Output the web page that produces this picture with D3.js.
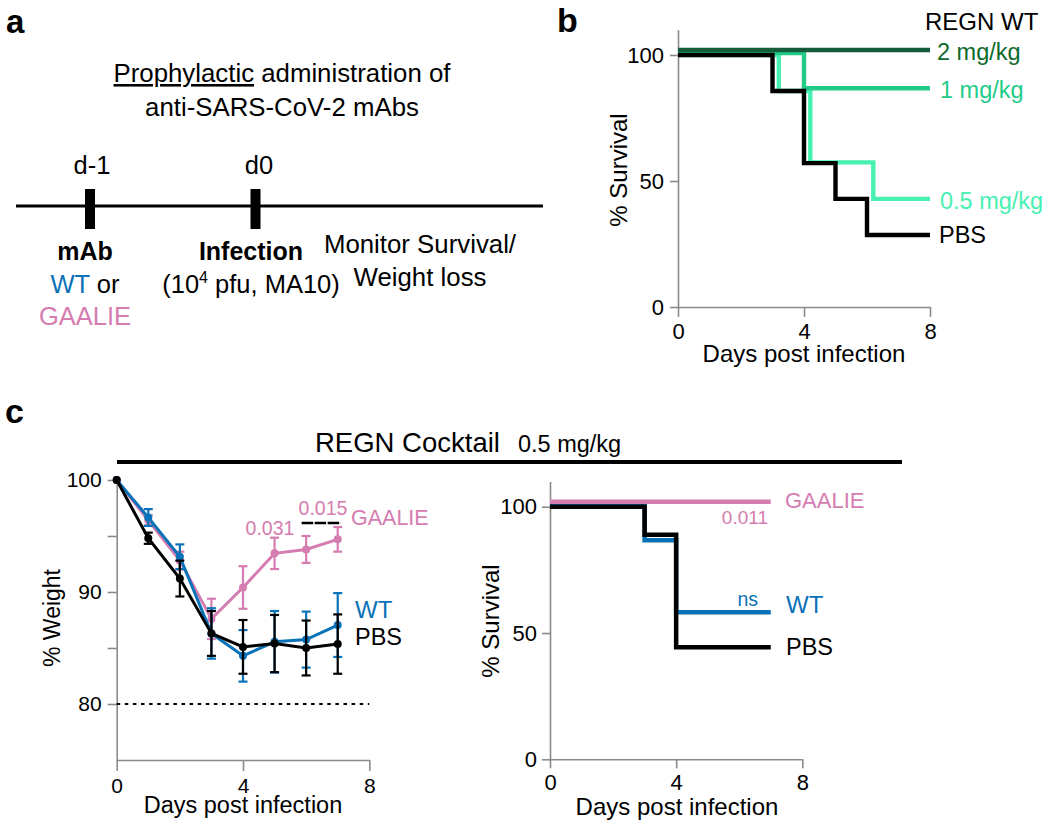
<!DOCTYPE html>
<html><head><meta charset="utf-8">
<script src="https://cdn.jsdelivr.net/npm/d3@7"></script>
<style>
body{margin:0;background:#fff}
svg{font-family:"Liberation Sans",Arial,Helvetica,sans-serif}
</style>
</head><body>
<svg id="fig" width="1050" height="828"></svg>
<script>
// ---------- DATA ----------
// Panel b: Kaplan-Meier, REGN WT doses
const bEndDay = 8;
const bTimes05 = [0, 3.2, 4.2, 6.2];
const bSurv05  = [100, 85.7, 57.4, 42.9];
const bTimes1  = [0, 4];
const bSurv1   = [100.8, 86.8];
const bTimesPBS = [0, 3, 4, 5, 6];
const bSurvPBS  = [100, 85.7, 57.1, 42.9, 28.6];
const bTimes2  = [0];
const bSurv2   = [102];
const bLabels  = ["2 mg/kg", "1 mg/kg", "0.5 mg/kg", "PBS"];

// Panel c (left): % weight, mean and SEM by day
const days = [0, 1, 2, 3, 4, 5, 6, 7];
const gaalieMean = [100, 96.4, 92.8, 87.6, 90.4, 93.45, 93.8, 94.7];
const gaalieSem  = [0, 0.45, 0.8, 1.8, 1.9, 1.4, 1.2, 1.1];
const wtMean  = [100, 96.65, 93.15, 86.3, 84.3, 85.55, 85.75, 87.05];
const wtSem   = [0, 0.75, 1.1, 2.25, 2.3, 2.75, 2.5, 2.85];
const pbsMean = [100, 94.8, 91.2, 86.3, 85.1, 85.4, 85.0, 85.35];
const pbsSem  = [0, 0.5, 1.6, 2.0, 2.4, 2.55, 2.45, 2.65];
const weightTicks = [80, 85, 90, 95, 100];
const weightLabels = ["GAALIE", "WT", "PBS"];
const pValsWeight = ["0.031", "0.015"];

// Panel c (right): Kaplan-Meier, REGN cocktail 0.5 mg/kg
const cEndDay = 7;
const cTimesGA = [0];
const cSurvGA  = [102];
const cTimesWT = [0, 3, 4];
const cSurvWT  = [101, 86.7, 58.2];
const cTimesPBS = [0, 3, 4];
const cSurvPBS  = [100, 88.9, 44.4];

const survTicks = [0, 50, 100];
const dayTicks = [0, 4, 8];

// ---------- STYLE ----------
const C = {
  axis: "#8a8a8a",
  g2: "#145c3a", g2t: "#0e6a2c",
  g1: "#22cc88",
  g05: "#48f0b2",
  blue: "#0a72b8",
  pink: "#d57db0",
  black: "#000"
};

const svg = d3.select("#fig");

function txt(g, x, y, s, o = {}) {
  const t = g.append("text").attr("x", x).attr("y", y).text(s)
    .attr("font-size", o.size || 24)
    .attr("fill", o.fill || "#000")
    .attr("text-anchor", o.anchor || "start");
  if (o.bold) t.attr("font-weight", "bold");
  return t;
}

function styleAxis(g, fs) {
  g.attr("font-family", null).attr("font-size", null);
  g.select(".domain").attr("stroke", C.axis).attr("stroke-width", 1.6);
  g.selectAll(".tick line").attr("stroke", C.axis).attr("stroke-width", 1.6);
  g.selectAll(".tick text").attr("fill", "#000")
    .style("font-family", "'Liberation Sans', Arial, sans-serif")
    .style("font-size", fs + "px");
}

function stepPath(times, surv, end) {
  const pts = times.map((t, i) => [t, surv[i]]);
  pts.push([end, surv[surv.length - 1]]);
  return pts;
}

// ---------- PANEL A ----------
const a = svg.append("g");
txt(a, 6, 33, "a", {size: 33, bold: true});
const t1 = a.append("text").attr("x", 282).attr("y", 82).attr("font-size", 25.8).attr("text-anchor", "middle");
t1.append("tspan").attr("text-decoration", "underline").style("text-decoration", "underline").text("Prophylactic");
t1.append("tspan").text(" administration of");
txt(a, 282, 116, "anti-SARS-CoV-2 mAbs", {size: 25.8, anchor: "middle"});
a.append("line").attr("x1", 16).attr("x2", 543).attr("y1", 206).attr("y2", 206)
  .attr("stroke", "#000").attr("stroke-width", 3);
a.append("rect").attr("x", 85).attr("y", 189).attr("width", 10).attr("height", 40).attr("fill", "#000");
a.append("rect").attr("x", 250.5).attr("y", 189).attr("width", 10).attr("height", 40).attr("fill", "#000");
txt(a, 92, 174, "d-1", {size: 25.5, anchor: "middle"});
txt(a, 259, 174, "d0", {size: 25.5, anchor: "middle"});
txt(a, 85, 260, "mAb", {size: 25, bold: true, anchor: "middle"});
const wtor = a.append("text").attr("x", 85).attr("y", 293).attr("font-size", 25.5).attr("text-anchor", "middle");
wtor.append("tspan").attr("fill", C.blue).text("WT");
wtor.append("tspan").attr("fill", "#000").text(" or");
txt(a, 85, 325, "GAALIE", {size: 25.5, anchor: "middle", fill: C.pink});
txt(a, 251, 260, "Infection", {size: 25, bold: true, anchor: "middle"});
const inf = a.append("text").attr("x", 251).attr("y", 293).attr("font-size", 25.5).attr("text-anchor", "middle");
inf.append("tspan").text("(10");
inf.append("tspan").attr("font-size", 16).attr("dy", -10).text("4");
inf.append("tspan").attr("dy", 10).text(" pfu, MA10)");
txt(a, 420, 253, "Monitor Survival/", {size: 25.8, anchor: "middle"});
txt(a, 420, 286, "Weight loss", {size: 25.8, anchor: "middle"});

// ---------- PANEL B ----------
const b = svg.append("g");
txt(b, 557, 31.5, "b", {size: 34, bold: true});
const bx = d3.scaleLinear().domain([0, 8]).range([678, 930]);
const by = d3.scaleLinear().domain([0, 110]).range([307, 29.8]);
b.append("g").attr("transform", "translate(0,307)")
  .call(d3.axisBottom(bx).tickValues(dayTicks).tickSize(10).tickSizeOuter(0).tickPadding(6))
  .call(styleAxis, 22);
b.append("g").attr("transform", "translate(678,0)")
  .call(d3.axisLeft(by).tickValues(survTicks).tickSize(8).tickSizeOuter(0).tickPadding(6))
  .call(styleAxis, 22);
const line = (xs, ys) => d3.line().x(d => xs(d[0])).y(d => ys(d[1])).curve(d3.curveStepAfter);
const bl = line(bx, by);
[[bTimes05, bSurv05, C.g05], [bTimes1, bSurv1, C.g1], [bTimesPBS, bSurvPBS, C.black], [bTimes2, bSurv2, C.g2]]
  .forEach(([t, s, col]) => {
    b.append("path").attr("d", bl(stepPath(t, s, bEndDay))).attr("fill", "none")
      .attr("stroke", col).attr("stroke-width", 4.4).attr("stroke-linejoin", "miter");
  });
txt(b, 925, 30, "REGN WT", {size: 24});
txt(b, 937, 60, bLabels[0], {size: 23.5, fill: C.g2t});
txt(b, 940, 98, bLabels[1], {size: 23.5, fill: C.g1});
txt(b, 940, 209, bLabels[2], {size: 23.5, fill: C.g05});
txt(b, 939, 243, bLabels[3], {size: 23.5});
txt(b, 0, 0, "% Survival", {size: 24, anchor: "middle"}).attr("transform", "translate(627,170) rotate(-90)");
txt(b, 804, 362, "Days post infection", {size: 24, anchor: "middle"});

// ---------- PANEL C ----------
const c = svg.append("g");
txt(c, 5, 423, "c", {size: 34, bold: true});
txt(c, 315, 452, "REGN Cocktail", {size: 27.5});
txt(c, 518, 452, "0.5 mg/kg", {size: 23.5});
c.append("line").attr("x1", 117).attr("x2", 902).attr("y1", 462).attr("y2", 462)
  .attr("stroke", "#000").attr("stroke-width", 4);

// left: weight
const wx = d3.scaleLinear().domain([0, 8]).range([116.7, 369.3]);
const wy = d3.scaleLinear().domain([75, 100]).range([760, 480]);
c.append("g").attr("transform", "translate(0,760)")
  .call(d3.axisBottom(wx).tickValues(dayTicks).tickSize(11).tickSizeOuter(0).tickPadding(7))
  .call(styleAxis, 21);
c.append("g").attr("transform", "translate(116.7,0)")
  .call(d3.axisLeft(wy).tickValues(weightTicks).tickSize(9).tickSizeOuter(0).tickPadding(6)
    .tickFormat(d => d % 10 === 0 ? d : ""))
  .call(styleAxis, 21);
// dotted 80% line
c.append("line").attr("x1", wx(0)).attr("x2", wx(8)).attr("y1", wy(80)).attr("y2", wy(80))
  .attr("stroke", "#000").attr("stroke-width", 1.8).attr("stroke-dasharray", "3.5,4.6");

function weightSeries(mean, sem, col) {
  const g = c.append("g");
  const data = days.map((d, i) => ({d, m: mean[i], s: sem[i]}));
  g.append("path").attr("d", d3.line().x(p => wx(p.d)).y(p => wy(p.m))(data))
    .attr("fill", "none").attr("stroke", col).attr("stroke-width", 3);
  data.filter(p => p.s > 0).forEach(p => {
    const x = wx(p.d), y1 = wy(p.m - p.s), y2 = wy(p.m + p.s);
    g.append("line").attr("x1", x).attr("x2", x).attr("y1", y1).attr("y2", y2)
      .attr("stroke", col).attr("stroke-width", 2.2);
    [y1, y2].forEach(yy => g.append("line").attr("x1", x - 4.5).attr("x2", x + 4.5)
      .attr("y1", yy).attr("y2", yy).attr("stroke", col).attr("stroke-width", 2.2));
  });
  g.selectAll("circle").data(data).join("circle")
    .attr("cx", p => wx(p.d)).attr("cy", p => wy(p.m)).attr("r", 4).attr("fill", col);
}
weightSeries(gaalieMean, gaalieSem, C.pink);
weightSeries(wtMean, wtSem, C.blue);
weightSeries(pbsMean, pbsSem, C.black);

txt(c, 270, 535, pValsWeight[0], {size: 19.5, anchor: "middle", fill: C.pink});
txt(c, 323, 515, pValsWeight[1], {size: 19.5, anchor: "middle", fill: C.pink});
c.append("line").attr("x1", wx(6) - 4.5).attr("x2", wx(7) + 3).attr("y1", 523).attr("y2", 523)
  .attr("stroke", "#000").attr("stroke-width", 2.6).attr("stroke-dasharray", "11.5,1.5");
txt(c, 351, 525, weightLabels[0], {size: 21.5, fill: C.pink});
txt(c, 355, 618, weightLabels[1], {size: 24, fill: C.blue});
txt(c, 355, 645, weightLabels[2], {size: 23.5});
txt(c, 0, 0, "% Weight", {size: 23, anchor: "middle"}).attr("transform", "translate(60,618) rotate(-90)");
txt(c, 243, 813, "Days post infection", {size: 23.5, anchor: "middle"});

// right: survival
const sx = d3.scaleLinear().domain([0, 8]).range([550, 802.3]);
const sy = d3.scaleLinear().domain([0, 110]).range([759.3, 481.5]);
c.append("g").attr("transform", "translate(0,759.3)")
  .call(d3.axisBottom(sx).tickValues(dayTicks).tickSize(9).tickSizeOuter(0).tickPadding(6))
  .call(styleAxis, 22);
c.append("g").attr("transform", "translate(550,0)")
  .call(d3.axisLeft(sy).tickValues(survTicks).tickSize(8).tickSizeOuter(0).tickPadding(5))
  .call(styleAxis, 22);
const sl = line(sx, sy);
[[cTimesWT, cSurvWT, C.blue], [cTimesGA, cSurvGA, C.pink], [cTimesPBS, cSurvPBS, C.black]]
  .forEach(([t, s, col]) => {
    c.append("path").attr("d", sl(stepPath(t, s, cEndDay))).attr("fill", "none")
      .attr("stroke", col).attr("stroke-width", 4.5);
  });
txt(c, 785, 508, "GAALIE", {size: 22, fill: C.pink});
txt(c, 768, 524, "0.011", {size: 19, anchor: "end", fill: C.pink});
txt(c, 758, 606, "ns", {size: 19.5, anchor: "end", fill: C.blue});
txt(c, 786, 613, "WT", {size: 24, fill: C.blue});
txt(c, 786, 655, "PBS", {size: 23.5});
txt(c, 0, 0, "% Survival", {size: 24, anchor: "middle"}).attr("transform", "translate(499,621) rotate(-90)");
txt(c, 677, 815, "Days post infection", {size: 24, anchor: "middle"});
</script>
</body></html>
